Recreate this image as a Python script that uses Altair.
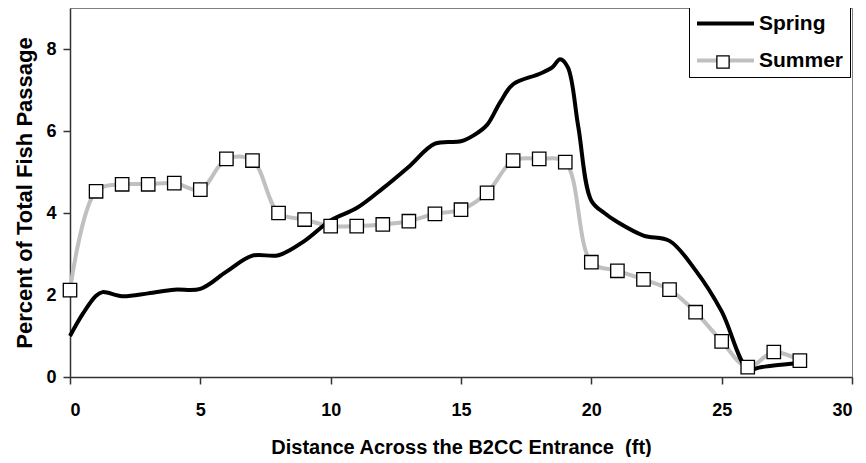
import altair as alt
import pandas as pd

# ---- data ----
spring_x = [0, 0.5, 1, 1.25, 2, 3, 4, 5, 6, 7, 8, 9, 10, 11, 12, 13, 14, 15, 15.5, 16,
            16.5, 17, 18, 18.5, 18.8, 19.1, 19.5, 20, 20.5, 21, 22, 23, 24, 25, 26, 26.5, 27, 28]
spring_y = [1.0, 1.55, 1.98, 2.07, 1.97, 2.04, 2.13, 2.15, 2.57, 2.96, 2.97, 3.32, 3.82, 4.12, 4.6, 5.13, 5.69, 5.75, 5.9, 6.15,
            6.7, 7.14, 7.39, 7.55, 7.75, 7.55, 6.1, 4.3, 4.0, 3.78, 3.45, 3.32, 2.6, 1.6, 0.2, 0.24, 0.28, 0.34]
summer_x = list(range(0, 29))
summer_y = [2.12, 4.53, 4.70, 4.70, 4.73, 4.57, 5.32, 5.28, 4.0, 3.84, 3.68, 3.68, 3.72, 3.8, 3.98,
            4.08, 4.49, 5.28, 5.32, 5.24, 2.8, 2.59, 2.38, 2.13, 1.58, 0.87, 0.24, 0.61, 0.40]
seasons = ["Spring", "Summer"]
x_ticks = [0, 5, 10, 15, 20, 25, 30]
y_ticks = [0, 2, 4, 6, 8]

spring = pd.DataFrame({"x": spring_x, "y": spring_y, "season": "Spring"})
summer = pd.DataFrame({"x": summer_x, "y": summer_y, "season": "Summer"})

FONT = "Liberation Sans"

xs = alt.Scale(domain=[0, 30], nice=False)
ys = alt.Scale(domain=[0, 9], nice=False)

x_enc = alt.X("x:Q", scale=xs, axis=alt.Axis(values=x_ticks,
                                            title="Distance Across the B2CC Entrance \u00a0(ft)",
                                            labelPadding=17, titlePadding=18))
y_enc = alt.Y("y:Q", scale=ys, axis=alt.Axis(values=y_ticks, title="Percent of Total Fish Passage",
                                            labelPadding=7, titlePadding=9))

color_scale = alt.Scale(domain=seasons, range=["black", "#c0c0c0"])

color_legend = alt.Legend(
    orient="none", legendX=619, legendY=-2, title=None,
    symbolType="M-1,0H5", symbolSize=361, symbolStrokeWidth=4,
    labelFont=FONT, labelFontSize=21, labelFontWeight="bold", labelColor="black",
    strokeColor="black", fillColor="white", padding=6, rowPadding=15, labelOffset=41,
    cornerRadius=0,
)
shape_legend = alt.Legend(
    orient="none", legendX=641, legendY=42, title=None, values=["Summer"],
    symbolSize=150, symbolStrokeWidth=1.3, symbolFillColor="white",
    symbolOpacity=1, labelExpr="''", labelFontSize=1,
    padding=5,
)

summer_line = alt.Chart(summer).mark_line(interpolate="catmull-rom", strokeWidth=4).encode(
    x=x_enc, y=y_enc, color=alt.Color("season:N", scale=color_scale, legend=color_legend)
)
spring_line = alt.Chart(spring).mark_line(interpolate="catmull-rom", strokeWidth=4).encode(
    x=x_enc, y=y_enc, color=alt.Color("season:N", scale=color_scale, legend=color_legend)
)
summer_pts = alt.Chart(summer).mark_point(filled=False, fill="white", strokeWidth=1.3,
                                          size=180, opacity=1, fillOpacity=1).encode(
    x=x_enc, y=y_enc,
    shape=alt.Shape("season:N", scale=alt.Scale(domain=seasons, range=["M0,0", "square"]), legend=shape_legend),
    stroke=alt.Stroke("season:N", scale=alt.Scale(domain=seasons, range=["black", "black"]), legend=shape_legend),
)

chart = alt.layer(summer_line, spring_line, summer_pts).resolve_legend(
    color="independent", shape="independent", stroke="independent").properties(
    width=782, height=369,
    autosize=alt.AutoSizeParams(type="none"),
    padding={"left": 62, "top": 0, "right": 6, "bottom": 80},
).configure_view(stroke="#808080", strokeWidth=1).configure_axis(
    grid=False, labelFont=FONT, labelFontSize=18, labelFontWeight="bold", labelColor="black",
    titleFont=FONT, titleFontSize=20, titleFontWeight="bold", titleColor="black",
    domainColor="#333333", domainWidth=1.5, tickColor="#333333", tickWidth=1.5, tickSize=7,
).configure_axisLeft(titleFontSize=22)

chart.save("out.html", embed_options={"renderer": "svg", "actions": False})
